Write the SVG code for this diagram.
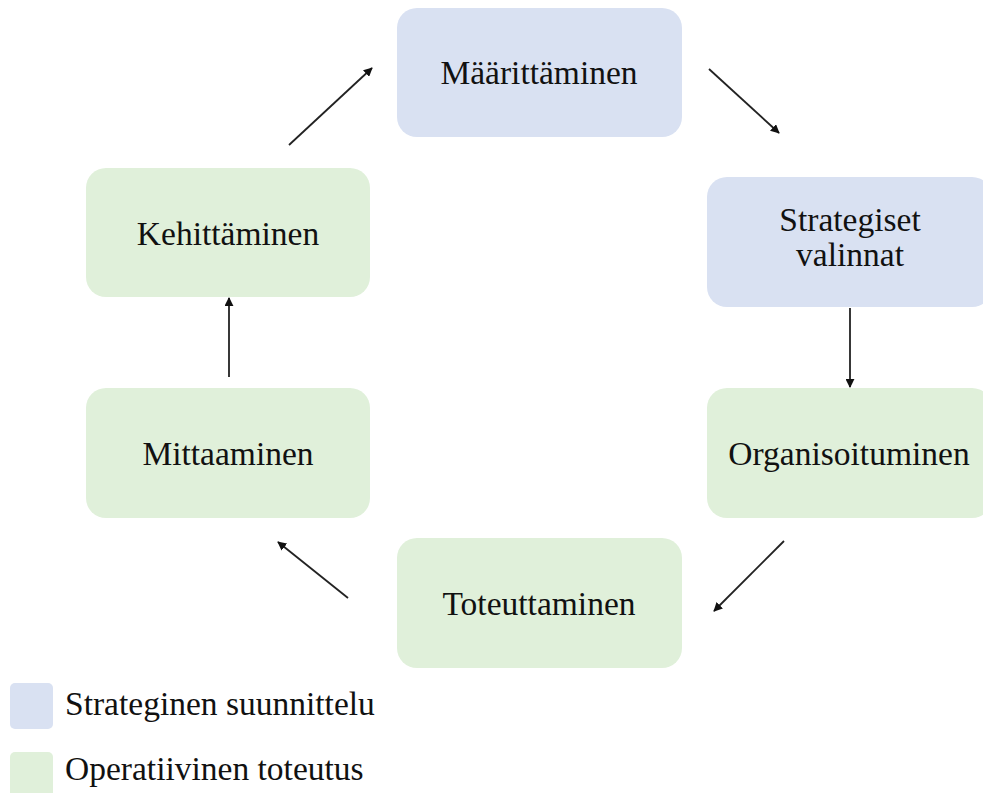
<svg xmlns="http://www.w3.org/2000/svg" width="983" height="793" viewBox="0 0 983 793">
<style>
.blue{fill:#d9e1f2}
.green{fill:#e0f0da}
.t{font-family:"Liberation Serif","Times New Roman",serif;font-size:33.5px;fill:#111;text-anchor:middle}
.lt{font-family:"Liberation Serif","Times New Roman",serif;font-size:33.5px;fill:#111}
.c{stroke:#222;stroke-width:1.8;fill:none;marker-end:url(#ah)}
</style>
<defs>
<marker id="ah" viewBox="0 0 10 10" refX="9" refY="5" markerWidth="9" markerHeight="9" markerUnits="userSpaceOnUse" orient="auto">
<path d="M0,0 L10,5 L0,10 z" fill="#111"/>
</marker>
</defs>
<rect width="983" height="793" fill="#fff"/>
<g id="maarittaminen"><rect class="blue" x="397" y="8" width="285" height="129" rx="20"/><text class="t" x="539" y="84">Määrittäminen</text></g>
<g id="strategiset"><rect class="blue" x="707" y="177" width="285" height="130" rx="20"/><text class="t" x="850" y="231">Strategiset</text><text class="t" x="850" y="266">valinnat</text></g>
<g id="organisoituminen"><rect class="green" x="707" y="388" width="285" height="130" rx="20"/><text class="t" x="849" y="465">Organisoituminen</text></g>
<g id="toteuttaminen"><rect class="green" x="397" y="538" width="285" height="130" rx="20"/><text class="t" x="539" y="615">Toteuttaminen</text></g>
<g id="mittaaminen"><rect class="green" x="86" y="388" width="284" height="130" rx="20"/><text class="t" x="228" y="465">Mittaaminen</text></g>
<g id="kehittaminen"><rect class="green" x="86" y="168" width="284" height="129" rx="20"/><text class="t" x="228" y="245">Kehittäminen</text></g>
<g id="connectors">
<line class="c" x1="289" y1="145" x2="372" y2="68"/>
<line class="c" x1="709" y1="69" x2="779" y2="133"/>
<line class="c" x1="850" y1="308" x2="850" y2="387"/>
<line class="c" x1="784" y1="541" x2="714" y2="611"/>
<line class="c" x1="348" y1="598" x2="278" y2="542"/>
<line class="c" x1="229" y1="377" x2="229" y2="298"/>
</g>
<g id="legend">
<rect class="blue" x="10" y="683" width="43" height="46" rx="5"/>
<text class="lt" x="65" y="715">Strateginen suunnittelu</text>
<rect class="green" x="10" y="752" width="43" height="46" rx="5"/>
<text class="lt" x="65" y="780">Operatiivinen toteutus</text>
</g>
</svg>
